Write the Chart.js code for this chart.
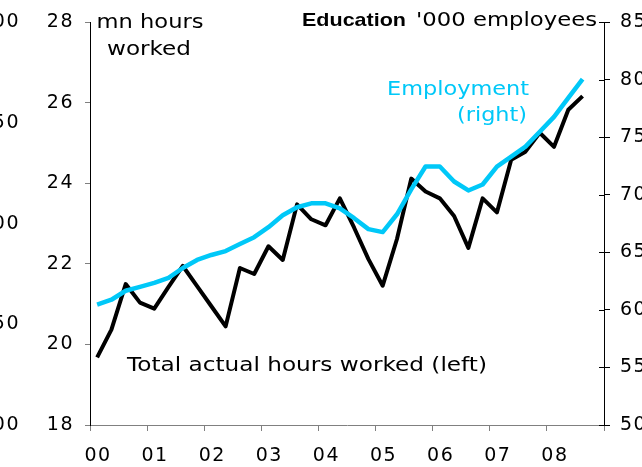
<!DOCTYPE html>
<html>
<head>
<meta charset="utf-8">
<script src="https://cdn.jsdelivr.net/npm/chart.js@4.4.0/dist/chart.umd.min.js"></script>
<style>
html, body { margin: 0; padding: 0; background: #fff; }
#wrap { width: 642px; height: 467px; }
</style>
</head>
<body>
<div id="wrap"><canvas id="myChart" width="642" height="467"></canvas></div>
<script>
// quarterly data, 2000 Q1 .. 2008 Q3
var years = ['00', '01', '02', '03', '04', '05', '06', '07', '08'];
var hoursWorked = [19.68, 20.37, 21.5, 21.04, 20.89, 21.43, 21.95, 21.45, 20.95, 20.45,
  21.9, 21.75, 22.44, 22.1, 23.48, 23.11, 22.96, 23.63, 22.9, 22.12,
  21.46, 22.62, 24.12, 23.8, 23.63, 23.19, 22.4, 23.63, 23.28, 24.59,
  24.79, 25.26, 24.91, 25.83, 26.17]; // mn hours (left)
var employment = [60.46, 60.89, 61.67, 62.01, 62.36, 62.79, 63.65, 64.35, 64.78, 65.12,
  65.73, 66.33, 67.2, 68.23, 68.93, 69.27, 69.27, 68.84, 67.98, 67.03,
  66.77, 68.32, 70.48, 72.47, 72.47, 71.17, 70.39, 70.91, 72.47, 73.33,
  74.2, 75.49, 76.79, 78.43, 80.07]; // '000 employees (right)
var ghostLabels = ['00', '50', '00', '50', '00']; // cut-off axis of the chart next door
var ghostAt = [28, 25.5, 23, 20.5, 18];

var font = '"DejaVu Sans", Verdana, sans-serif';
var cyan = '#00C8F8';

function toPoints(arr) { // quarter i sits in the middle of its quarter
  return arr.map(function (v, i) { return { x: (i + 0.5) / 4, y: v }; });
}

// tick labels: a touch looser than DejaVu
var spacing = {
  id: 'spacing',
  beforeUpdate: function (chart) { chart.ctx.letterSpacing = '1.5px'; },
  beforeDraw: function (chart) { chart.ctx.letterSpacing = '1.5px'; }
};

// draw a string stretched sideways to the width it has in the original
function wideText(c, s, x, y, w, align) {
  c.save();
  c.letterSpacing = '0px';
  var m = c.measureText(s).width;
  var sx = w / m;
  var left = align === 'right' ? x - w : (align === 'center' ? x - w / 2 : x);
  c.translate(left, y);
  c.scale(sx, 1);
  c.textAlign = 'left';
  c.fillText(s, 0, 0);
  c.restore();
}

var extras = {
  id: 'extras',
  afterDraw: function (chart) {
    var c = chart.ctx;
    var yl = chart.scales.y, yr = chart.scales.y1;
    c.save();
    // right axis ticks poke inside the plot too
    c.strokeStyle = '#000';
    c.lineWidth = 1;
    yr.ticks.forEach(function (t) {
      var py = Math.round(yr.getPixelForValue(t.value)) + 0.5;
      c.beginPath(); c.moveTo(yr.left - 5, py); c.lineTo(yr.left, py); c.stroke();
    });
    c.fillStyle = '#000';
    c.font = '19px ' + font;
    c.letterSpacing = '1.5px';
    c.textBaseline = 'middle';
    c.textAlign = 'right';
    ghostLabels.forEach(function (s, i) { c.fillText(s, 20, yl.getPixelForValue(ghostAt[i])); });
    c.textBaseline = 'alphabetic';
    wideText(c, 'mn hours', 150, 28, 107, 'center');
    wideText(c, 'worked', 149, 55, 84, 'center');
    wideText(c, 'Total actual hours worked (left)', 127, 371, 360, 'left');
    wideText(c, "'000 employees", 416, 26, 181, 'left');
    c.font = 'bold 19px "Liberation Sans", Arial, sans-serif';
    wideText(c, 'Education', 302, 26, 104, 'left');
    c.fillStyle = cyan;
    c.font = '19px ' + font;
    wideText(c, 'Employment', 529, 95, 142, 'right');
    wideText(c, '(right)', 527, 121, 70, 'right');
    c.restore();
  }
};

var ctx = document.getElementById('myChart').getContext('2d');
var chart = new Chart(ctx, {
  type: 'line',
  data: {
    datasets: [
      {
        label: 'Employment (right)',
        data: toPoints(employment),
        yAxisID: 'y1',
        borderColor: cyan,
        borderWidth: 4.5,
        order: 0
      },
      {
        label: 'Total actual hours worked (left)',
        data: toPoints(hoursWorked),
        yAxisID: 'y',
        borderColor: '#000',
        borderWidth: 4,
        order: 1
      }
    ]
  },
  options: {
    responsive: false,
    animation: false,
    layout: { padding: { top: 20, left: 0, right: 0, bottom: 0 } },
    elements: {
      point: { radius: 0 },
      line: { tension: 0, borderJoinStyle: 'round', borderCapStyle: 'butt', fill: false }
    },
    plugins: { legend: { display: false }, tooltip: { enabled: false } },
    scales: {
      x: {
        type: 'linear',
        min: 0,
        max: 9,
        afterFit: function (s) { s.height = 42; },
        border: { color: '#808080', width: 1 },
        grid: { drawOnChartArea: false, tickLength: 6, color: '#808080' },
        ticks: {
          stepSize: 1,
          autoSkip: false,
          maxRotation: 0,
          labelOffset: 8,
          padding: 14,
          color: '#000',
          font: { family: font, size: 19 },
          callback: function (v) { return years[v] || ''; }
        }
      },
      y: {
        position: 'left',
        min: 18,
        max: 28,
        afterFit: function (s) { s.width = 90; },
        border: { color: '#000', width: 1 },
        grid: { drawOnChartArea: false, tickLength: 5, color: '#808080' },
        ticks: { stepSize: 2, padding: 11, color: '#000', font: { family: font, size: 19 } }
      },
      y1: {
        position: 'right',
        min: 50,
        max: 85,
        afterFit: function (s) { s.width = 38; },
        border: { color: '#000', width: 1 },
        grid: { drawOnChartArea: false, tickLength: 6, color: '#000' },
        ticks: { stepSize: 5, padding: 10, color: '#000', font: { family: font, size: 19 } }
      }
    }
  },
  plugins: [spacing, extras]
});
</script>
</body>
</html>
